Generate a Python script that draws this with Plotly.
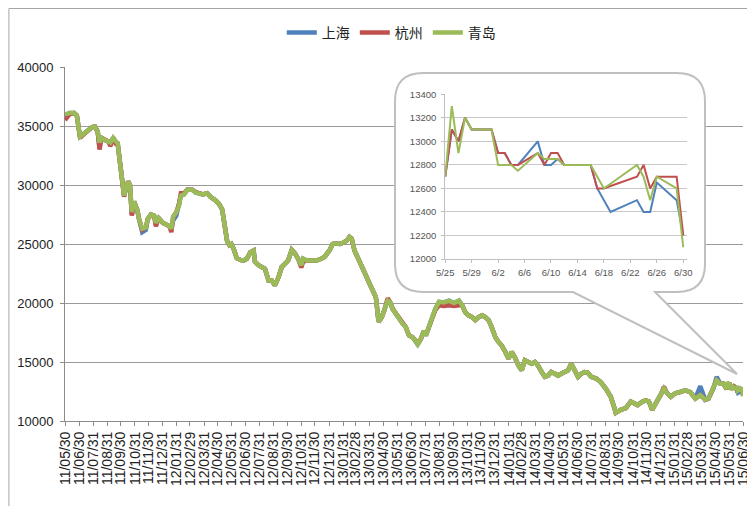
import plotly.graph_objects as go

# ---------------- main chart data (daily price, sampled) ----------------
hist_dates = [
    "2011-05-30", "2011-06-09", "2011-06-19", "2011-06-25", "2011-07-02", "2011-07-09", "2011-07-19", "2011-07-29",
    "2011-08-04", "2011-08-10", "2011-08-14", "2011-08-18", "2011-08-26", "2011-09-02", "2011-09-07", "2011-09-13",
    "2011-09-19", "2011-09-23", "2011-09-29", "2011-10-03", "2011-10-07", "2011-10-11", "2011-10-16", "2011-10-20",
    "2011-10-22", "2011-10-24", "2011-10-29", "2011-11-05", "2011-11-09", "2011-11-16", "2011-11-24", "2011-11-28",
    "2011-12-05", "2011-12-12", "2011-12-16", "2011-12-22", "2011-12-31", "2012-01-07", "2012-01-15", "2012-01-19",
    "2012-01-23", "2012-01-30", "2012-02-05", "2012-02-09", "2012-02-16", "2012-02-23", "2012-03-05", "2012-03-13",
    "2012-03-20", "2012-03-28", "2012-04-07", "2012-04-14", "2012-04-25", "2012-05-03", "2012-05-10", "2012-05-16",
    "2012-05-21", "2012-05-26", "2012-05-30", "2012-06-04", "2012-06-11", "2012-06-19", "2012-06-26", "2012-07-03",
    "2012-07-11", "2012-07-18", "2012-07-21", "2012-07-29", "2012-08-05", "2012-08-12", "2012-08-20", "2012-08-27",
    "2012-09-03", "2012-09-11", "2012-09-18", "2012-09-25", "2012-10-02", "2012-10-10", "2012-10-17", "2012-10-24",
    "2012-10-31", "2012-11-04", "2012-11-12", "2012-11-23", "2012-12-03", "2012-12-14", "2012-12-21", "2013-01-01",
    "2013-01-08", "2013-01-15", "2013-01-24", "2013-01-31", "2013-02-07", "2013-02-14", "2013-02-19", "2013-02-25",
    "2013-03-08", "2013-03-15", "2013-03-22", "2013-03-30", "2013-04-06", "2013-04-13", "2013-04-16", "2013-04-19",
    "2013-04-26", "2013-05-02", "2013-05-09", "2013-05-14", "2013-05-20", "2013-05-27", "2013-06-03", "2013-06-11",
    "2013-06-18", "2013-06-25", "2013-07-03", "2013-07-10", "2013-07-14", "2013-07-21", "2013-07-28", "2013-08-01",
    "2013-08-08", "2013-08-15", "2013-08-22", "2013-08-30", "2013-09-10", "2013-09-21", "2013-10-02", "2013-10-13",
    "2013-10-20", "2013-10-27", "2013-11-03", "2013-11-11", "2013-11-18", "2013-11-25", "2013-12-03", "2013-12-10",
    "2013-12-17", "2013-12-24", "2014-01-01", "2014-01-08", "2014-01-15", "2014-01-23", "2014-01-30", "2014-02-06",
    "2014-02-13", "2014-02-21", "2014-02-28", "2014-03-07", "2014-03-15", "2014-03-22", "2014-03-29", "2014-04-05",
    "2014-04-13", "2014-04-20", "2014-04-27", "2014-05-04", "2014-05-12", "2014-05-19", "2014-05-26", "2014-06-03",
    "2014-06-10", "2014-06-17", "2014-06-24", "2014-07-02", "2014-07-09", "2014-07-16", "2014-07-23", "2014-07-31",
    "2014-08-11", "2014-08-21", "2014-09-01", "2014-09-12", "2014-09-20", "2014-09-23", "2014-10-04", "2014-10-15",
    "2014-10-26", "2014-11-02", "2014-11-10", "2014-11-21", "2014-11-28", "2014-12-05", "2014-12-12", "2014-12-20",
    "2014-12-31", "2015-01-07", "2015-01-14", "2015-01-22", "2015-02-01", "2015-02-12", "2015-02-23", "2015-03-06",
    "2015-03-17", "2015-03-28", "2015-04-08", "2015-04-15", "2015-04-26", "2015-05-03", "2015-05-11", "2015-05-18",
]

hist_qingdao = [
    36000, 36100, 36100, 35900, 34100, 34300, 34600, 34900,
    34950, 34500, 33600, 34000, 33800, 33700, 33600, 34000,
    33600, 33500, 31600, 29900, 29100, 29700, 30300, 30000,
    28800, 27700, 28600, 27900, 27100, 26300, 26400, 27100,
    27500, 27400, 26800, 27200, 26800, 26700, 26500, 26300,
    27300, 27700, 28250, 29100, 29200, 29600, 29600, 29350,
    29300, 29200, 29300, 29000, 28700, 28400, 27900, 26200,
    25200, 24900, 25000, 24600, 23800, 23650, 23600, 23750,
    24300, 24450, 23500, 23200, 23050, 22900, 21900, 21900,
    21500, 22200, 23050, 23300, 23600, 24500, 24200, 23750,
    23200, 23750, 23600, 23600, 23600, 23750, 23900, 24450,
    25000, 25050, 25000, 25100, 25250, 25600, 25450, 24450,
    23600, 23050, 22350, 21650, 21100, 20500, 19500, 18400,
    18800, 19400, 20200, 20100, 19500, 19100, 18650, 18250,
    17950, 17250, 17100, 16800, 16500, 16950, 17650, 17250,
    18100, 18800, 19500, 20100, 20050, 20200, 20000, 20200,
    19800, 19200, 18950, 18800, 18550, 18800, 18950, 18800,
    18550, 17950, 17100, 16700, 16400, 15850, 15300, 15850,
    15400, 14700, 14300, 15150, 14950, 14850, 15000, 14700,
    14150, 13750, 13850, 14150, 14000, 13850, 14000, 14150,
    14300, 14850, 14400, 13750, 14000, 14150, 14100, 13750,
    13600, 13300, 12750, 12050, 11100, 10700, 10950, 11100,
    11650, 11500, 11350, 11650, 11750, 11650, 10950, 11500,
    12200, 12750, 12350, 12050, 12350, 12450, 12600, 12450,
    11900, 12200, 11800, 11900, 12750, 13450, 13150, 13150,
]

hist_shanghai = [
    35700, 36100, 36100, 35900, 34100, 34300, 34600, 34900,
    34950, 34500, 33200, 34000, 33800, 33700, 33500, 34000,
    33600, 33500, 31600, 29900, 29100, 29700, 30300, 30000,
    28800, 27500, 28600, 27900, 27100, 26000, 26200, 27100,
    27500, 27400, 26800, 27200, 26800, 26700, 26500, 26300,
    27000, 27400, 28250, 29100, 29200, 29600, 29600, 29350,
    29300, 29200, 29300, 29000, 28700, 28400, 27900, 26200,
    25200, 24900, 25000, 24600, 23800, 23650, 23600, 23750,
    24300, 24450, 23500, 23200, 23050, 22900, 21900, 21900,
    21500, 22200, 23050, 23300, 23600, 24500, 24200, 23750,
    23200, 23750, 23600, 23600, 23600, 23750, 23900, 24450,
    25000, 25050, 25000, 25100, 25250, 25600, 25450, 24450,
    23600, 23050, 22350, 21650, 21100, 20500, 19500, 18400,
    18800, 19400, 20200, 20100, 19500, 19100, 18650, 18250,
    17950, 17250, 17100, 16800, 16500, 16950, 17650, 17250,
    18100, 18800, 19500, 20100, 20050, 20200, 20000, 20200,
    19800, 19200, 18950, 18800, 18550, 18800, 18950, 18800,
    18550, 17950, 17100, 16700, 16400, 15850, 15300, 15850,
    15400, 14700, 14300, 15150, 14950, 14850, 15000, 14700,
    14150, 13750, 13850, 14150, 14000, 13850, 14000, 14150,
    14300, 14850, 14400, 13750, 14000, 14150, 14100, 13750,
    13600, 13300, 12750, 12050, 11100, 10700, 10950, 11100,
    11650, 11500, 11350, 11650, 11750, 11650, 10950, 11500,
    12200, 12750, 12350, 12050, 12350, 12450, 12600, 12450,
    11900, 12950, 11800, 11900, 12750, 13750, 13150, 13150,
]

hist_hangzhou = [
    35500, 36000, 36100, 35900, 34000, 34300, 34600, 34900,
    34950, 34500, 33000, 34000, 33800, 33700, 33300, 34000,
    33500, 33500, 31600, 29900, 29000, 29700, 30300, 30000,
    28800, 27400, 28600, 27900, 27100, 26200, 26400, 27100,
    27500, 27400, 26500, 27200, 26800, 26700, 26500, 26000,
    27300, 27700, 28400, 29300, 29300, 29600, 29600, 29400,
    29300, 29200, 29300, 29000, 28700, 28400, 27900, 26200,
    25200, 24900, 25000, 24600, 23800, 23650, 23600, 23750,
    24300, 24450, 23500, 23200, 23050, 22900, 21900, 21900,
    21500, 22200, 23050, 23300, 23600, 24500, 24200, 23750,
    23000, 23500, 23600, 23600, 23600, 23750, 23900, 24450,
    25000, 25050, 25000, 25100, 25250, 25600, 25450, 24450,
    23600, 23050, 22350, 21650, 21100, 20500, 19500, 18400,
    18800, 19400, 20400, 20100, 19500, 19100, 18650, 18250,
    17950, 17250, 17100, 16800, 16500, 16950, 17650, 17250,
    18000, 18700, 19400, 19800, 19750, 19800, 19750, 19800,
    19800, 19200, 18950, 18800, 18550, 18800, 18950, 18800,
    18550, 17950, 17100, 16700, 16400, 15850, 15300, 15850,
    15400, 14700, 14300, 15150, 14950, 14850, 15000, 14700,
    14150, 13750, 13850, 14150, 14000, 13850, 14000, 14150,
    14300, 14850, 14400, 13750, 14000, 14150, 14100, 13750,
    13600, 13300, 12750, 12050, 11100, 10700, 10950, 11100,
    11650, 11500, 11350, 11650, 11750, 11650, 10950, 11500,
    12200, 12900, 12350, 12050, 12350, 12450, 12600, 12450,
    11900, 12200, 11800, 11900, 12750, 13450, 13150, 13150,
]

# ---------------- inset: 2015-05-25 .. 2015-06-30 ----------------
recent_dates = [
    "2015-05-25", "2015-05-26", "2015-05-27", "2015-05-28", "2015-05-29", "2015-06-01", "2015-06-02",
    "2015-06-03", "2015-06-04", "2015-06-05", "2015-06-08", "2015-06-09", "2015-06-10", "2015-06-11",
    "2015-06-12", "2015-06-15", "2015-06-16", "2015-06-17", "2015-06-18", "2015-06-19", "2015-06-23",
    "2015-06-24", "2015-06-25", "2015-06-26", "2015-06-29", "2015-06-30",
]
recent_shanghai = [12700, 13100, 13000, 13200, 13100, 13100, 12900, 12900, 12800, 12800, 13000, 12800, 12800,
                   12850, 12800, 12800, 12800, 12600, 12500, 12400, 12500, 12400, 12400, 12650, 12500, 12200]
recent_hangzhou = [12700, 13100, 13000, 13200, 13100, 13100, 12900, 12900, 12800, 12800, 12900, 12800, 12900,
                   12900, 12800, 12800, 12800, 12600, 12600, 12620, 12700, 12800, 12600, 12700, 12700, 12200]
recent_qingdao = [12700, 13300, 12900, 13200, 13100, 13100, 12800, 12800, 12800, 12750, 12900, 12850, 12850,
                  12850, 12800, 12800, 12800, 12700, 12600, 12640, 12800, 12700, 12500, 12700, 12600, 12100]

series_names = ["上海", "杭州", "青岛"]

tick_dates = [
    "2011-05-30", "2011-06-30", "2011-07-31", "2011-08-31", "2011-09-30", "2011-10-31", "2011-11-30",
    "2011-12-31", "2012-01-31", "2012-02-29", "2012-03-31", "2012-04-30", "2012-05-31", "2012-06-30",
    "2012-07-31", "2012-08-31", "2012-09-30", "2012-10-31", "2012-11-30", "2012-12-31", "2013-01-31",
    "2013-02-28", "2013-03-31", "2013-04-30", "2013-05-31", "2013-06-30", "2013-07-31", "2013-08-31",
    "2013-09-30", "2013-10-31", "2013-11-30", "2013-12-31", "2014-01-31", "2014-02-28", "2014-03-31",
    "2014-04-30", "2014-05-31", "2014-06-30", "2014-07-31", "2014-08-31", "2014-09-30", "2014-10-31",
    "2014-11-30", "2014-12-31", "2015-01-31", "2015-02-28", "2015-03-31", "2015-04-30", "2015-05-31",
    "2015-06-30",
]
tick_labels = [
    "11/05/30", "11/06/30", "11/07/31", "11/08/31", "11/09/30", "11/10/31", "11/11/30",
    "11/12/31", "12/01/31", "12/02/29", "12/03/31", "12/04/30", "12/05/31", "12/06/30",
    "12/07/31", "12/08/31", "12/09/30", "12/10/31", "12/11/30", "12/12/31", "13/01/31",
    "13/02/28", "13/03/31", "13/04/30", "13/05/31", "13/06/30", "13/07/31", "13/08/31",
    "13/09/30", "13/10/31", "13/11/30", "13/12/31", "14/01/31", "14/02/28", "14/03/31",
    "14/04/30", "14/05/31", "14/06/30", "14/07/31", "14/08/31", "14/09/30", "14/10/31",
    "14/11/30", "14/12/31", "15/01/31", "15/02/28", "15/03/31", "15/04/30", "15/05/31",
    "15/06/30",
]
inset_tick_dates = ["2015-05-25", "2015-05-29", "2015-06-02", "2015-06-06", "2015-06-10",
                    "2015-06-14", "2015-06-18", "2015-06-22", "2015-06-26", "2015-06-30"]
inset_tick_labels = ["5/25", "5/29", "6/2", "6/6", "6/10", "6/14", "6/18", "6/22", "6/26", "6/30"]

# ---------------- figure ----------------
colors = ["#4F81BD", "#C0504D", "#9BBB59"]
main_x = hist_dates + recent_dates
main_y = [hist_shanghai + recent_shanghai, hist_hangzhou + recent_hangzhou, hist_qingdao + recent_qingdao]
inset_y = [recent_shanghai, recent_hangzhou, recent_qingdao]

fig = go.Figure()
for name, col, ys in zip(series_names, colors, main_y):
    fig.add_trace(go.Scatter(x=main_x, y=ys, name=name, mode="lines",
                             line=dict(color=col, width=4.5)))
for name, col, ys in zip(series_names, colors, inset_y):
    fig.add_trace(go.Scatter(x=recent_dates, y=ys, name=name, mode="lines", showlegend=False,
                             xaxis="x2", yaxis="y2", line=dict(color=col, width=2)))

# the page body has an 8px default margin: work in page pixels, convert to figure pixels
OFF = 8
FIG_W, FIG_H = 755 - OFF, 506 - OFF
L, R, T, B = 65 - OFF, 748 - OFF, 67 - OFF, 421 - OFF
W_PLOT, H_PLOT = R - L, B - T

# callout balloon (pixel offsets from the main plot's lower-left corner)
bl, br, bt, bb, rr = 395 - 65, 705 - 65, 421 - 73, 421 - 292, 28
pl, pr, tipx, tipy = 573 - 65, 655 - 65, 737 - 65, 421 - 374
balloon = (f"M {bl+rr} {bt} L {br-rr} {bt} Q {br} {bt} {br} {bt-rr} L {br} {bb+rr} Q {br} {bb} {br-rr} {bb} "
           f"L {pr} {bb} L {tipx} {tipy} L {pl} {bb} L {bl+rr} {bb} Q {bl} {bb} {bl} {bb+rr} "
           f"L {bl} {bt-rr} Q {bl} {bt} {bl+rr} {bt} Z")

fig.add_shape(type="path", path=balloon, xref="x", yref="y", xsizemode="pixel", ysizemode="pixel",
              xanchor="2011-05-30", yanchor=10000, layer="between",
              fillcolor="white", line=dict(color="#bfbfbf", width=2))

# outer frame
fig.add_shape(type="rect", xref="paper", yref="paper",
              x0=(0.5 - L) / W_PLOT, x1=(FIG_W + 10 - L) / W_PLOT,
              y0=(B - FIG_H - 10) / H_PLOT, y1=(B - 0.5) / H_PLOT,
              line=dict(color="#a6a6a6", width=1), fillcolor="rgba(0,0,0,0)", layer="below")

tickfont = dict(family="Liberation Sans, Arial, sans-serif", size=13, color="#222")
fig.update_layout(
    width=FIG_W, height=FIG_H,
    margin=dict(l=L, r=FIG_W - R, t=T, b=FIG_H - B),
    paper_bgcolor="white", plot_bgcolor="white",
    showlegend=True,
    legend=dict(orientation="h", xref="container", yref="container", x=383.3 / FIG_W, xanchor="center",
                y=1 - (33 - OFF) / FIG_H, yanchor="middle",
                font=dict(family="Noto Sans CJK SC, sans-serif", size=14, color="#222")),
    xaxis=dict(type="date", range=["2011-05-30", "2015-06-30"], tickmode="array",
               tickvals=tick_dates, ticktext=tick_labels, tickangle=-90,
               ticks="outside", ticklen=4, tickcolor="#8c8c8c", showline=True, linecolor="#8c8c8c",
               showgrid=False, zeroline=False, automargin=False,
               tickfont=dict(family="Liberation Sans, Arial, sans-serif", size=14, color="#222")),
    yaxis=dict(range=[10000, 40000], tick0=10000, dtick=5000, tickformat="d",
               showgrid=True, gridcolor="#9a9a9a", gridwidth=1, zeroline=False, automargin=False,
               showline=True, linecolor="#8c8c8c", ticks="outside", ticklen=4, tickcolor="#8c8c8c",
               ticklabelstandoff=4, tickfont=tickfont),
    xaxis2=dict(domain=[(448 - 65) / W_PLOT, (691.7 - 65) / W_PLOT], anchor="y2", type="date",
                range=["2015-05-25", "2015-06-30 14:00"], tickmode="array",
                tickvals=inset_tick_dates, ticktext=inset_tick_labels, tickangle=0,
                ticks="outside", ticklen=3, tickcolor="#bfbfbf", showline=True, linecolor="#bfbfbf",
                showgrid=False, zeroline=False, ticklabelstandoff=2,
                tickfont=dict(family="Liberation Sans, Arial, sans-serif", size=9.5, color="#555")),
    yaxis2=dict(domain=[(421 - 259) / H_PLOT, (421 - 94.3) / H_PLOT], anchor="x2",
                range=[12000, 13400], tick0=12000, dtick=200, tickformat="d",
                showgrid=True, gridcolor="#c8c8c8", zeroline=False,
                showline=True, linecolor="#bfbfbf", ticks="outside", ticklen=3, tickcolor="#bfbfbf",
                ticklabelstandoff=3,
                tickfont=dict(family="Liberation Sans, Arial, sans-serif", size=9.5, color="#555")),
)

fig.write_html("out.html")
